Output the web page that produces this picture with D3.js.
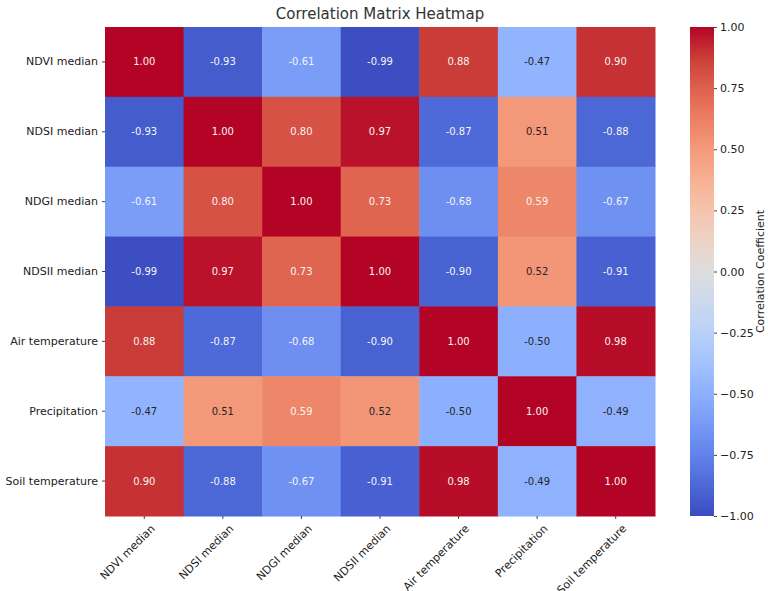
<!DOCTYPE html>
<html>
<head>
<meta charset="utf-8">
<script src="https://cdn.jsdelivr.net/npm/d3@7"></script>
<style>
  body { margin: 0; background: #fff; }
  svg text { font-family: "DejaVu Sans", sans-serif; }
</style>
</head>
<body>
<svg id="chart" width="768" height="591"></svg>
<script>
// variables in the matrix
var labels = ["NDVI median", "NDSI median", "NDGI median", "NDSII median",
              "Air temperature", "Precipitation", "Soil temperature"];

var rowNDVI  = [1.00, -0.93, -0.61, -0.99, 0.88, -0.47, 0.90];
var rowNDSI  = [-0.93, 1.00, 0.80, 0.97, -0.87, 0.51, -0.88];
var rowNDGI  = [-0.61, 0.80, 1.00, 0.73, -0.68, 0.59, -0.67];
var rowNDSII = [-0.99, 0.97, 0.73, 1.00, -0.90, 0.52, -0.91];
var rowAir   = [0.88, -0.87, -0.68, -0.90, 1.00, -0.50, 0.98];
var rowPrec  = [-0.47, 0.51, 0.59, 0.52, -0.50, 1.00, -0.49];
var rowSoil  = [0.90, -0.88, -0.67, -0.91, 0.98, -0.49, 1.00];

var matrix = [rowNDVI, rowNDSI, rowNDGI, rowNDSII, rowAir, rowPrec, rowSoil];
var cbTicks = [-1.00, -0.75, -0.50, -0.25, 0.00, 0.25, 0.50, 0.75, 1.00];

var svg = d3.select("#chart");
var m = { left: 105, top: 27, right: 655, bottom: 516 };

// coolwarm colormap (matplotlib samples)
var coolwarm = d3.piecewise(d3.interpolateRgb, [
    "rgb(59,76,192)", "rgb(77,104,215)", "rgb(98,130,234)", "rgb(119,154,247)",
    "rgb(141,176,254)", "rgb(163,194,255)", "rgb(184,208,249)", "rgb(204,217,238)",
    "rgb(221,221,221)", "rgb(236,211,197)", "rgb(245,196,173)", "rgb(247,177,148)",
    "rgb(244,154,123)", "rgb(236,127,99)", "rgb(222,96,77)", "rgb(203,62,56)",
    "rgb(180,4,38)"]);
var color = d3.scaleSequential(coolwarm).domain([-1, 1]);

var x = d3.scaleBand().domain(labels).range([m.left, m.right]);
var y = d3.scaleBand().domain(labels).range([m.top, m.bottom]);

var cells = [];
matrix.forEach(function (row, i) {
    row.forEach(function (v, j) {
        cells.push({ r: labels[i], c: labels[j], v: v });
    });
});

svg.append("text")
    .attr("x", (m.left + m.right) / 2).attr("y", 19)
    .attr("text-anchor", "middle")
    .attr("font-size", 15).attr("fill", "#333")
    .text("Correlation Matrix Heatmap");

svg.selectAll("rect.cell")
    .data(cells)
    .enter()
    .append("rect")
    .attr("class", "cell")
    .attr("x", function (d) { return x(d.c); })
    .attr("y", function (d) { return y(d.r); })
    .attr("width", x.bandwidth() + 0.5)
    .attr("height", y.bandwidth() + 0.5)
    .attr("fill", function (d) { return color(d.v); });

function lum(c) {
    var rgb = d3.rgb(c);
    var f = function (u) { u /= 255; return u <= 0.03928 ? u / 12.92 : Math.pow((u + 0.055) / 1.055, 2.4); };
    return 0.2126 * f(rgb.r) + 0.7152 * f(rgb.g) + 0.0722 * f(rgb.b);
}

svg.selectAll("text.val")
    .data(cells)
    .enter()
    .append("text")
    .attr("class", "val")
    .attr("x", function (d) { return x(d.c) + x.bandwidth() / 2; })
    .attr("y", function (d) { return y(d.r) + y.bandwidth() / 2; })
    .attr("dy", "0.35em")
    .attr("text-anchor", "middle")
    .attr("font-size", 10)
    .attr("fill", function (d) { return lum(color(d.v)) > 0.408 ? "#262626" : "#f4f4f4"; })
    .text(function (d) { return d.v.toFixed(2); });

// axes
var yAxis = svg.append("g")
    .attr("transform", "translate(" + m.left + ",0)")
    .call(d3.axisLeft(y).tickSize(3).tickPadding(4));
yAxis.attr("font-family", null);
yAxis.select(".domain").remove();
yAxis.selectAll("text").attr("font-size", 11).attr("fill", "#222");
yAxis.selectAll("line").attr("stroke", "#444");

var xAxis = svg.append("g")
    .attr("transform", "translate(0," + m.bottom + ")")
    .call(d3.axisBottom(x).tickSize(3).tickPadding(4));
xAxis.attr("font-family", null);
xAxis.select(".domain").remove();
xAxis.selectAll("line").attr("stroke", "#444");
xAxis.selectAll("text")
    .attr("font-size", 11).attr("fill", "#222")
    .attr("text-anchor", "end")
    .attr("dy", "0.3em")
    .attr("transform", "translate(4,6) rotate(-45)");

// colorbar
var cbX = 690, cbW = 24;
var defs = svg.append("defs");
var grad = defs.append("linearGradient").attr("id", "cbgrad")
    .attr("x1", 0).attr("y1", 1).attr("x2", 0).attr("y2", 0);
d3.range(0, 1.0001, 0.025).forEach(function (t) {
    grad.append("stop").attr("offset", t).attr("stop-color", coolwarm(t));
});
svg.append("rect")
    .attr("x", cbX).attr("y", m.top)
    .attr("width", cbW).attr("height", m.bottom - m.top)
    .attr("fill", "url(#cbgrad)");

var cbScale = d3.scaleLinear().domain([-1, 1]).range([m.bottom, m.top]);
var cbAxis = svg.append("g")
    .attr("transform", "translate(" + (cbX + cbW) + ",0)")
    .call(d3.axisRight(cbScale).tickValues(cbTicks)
        .tickFormat(function (d) { return d3.format(".2f")(d).replace("-", "\u2212"); })
        .tickSize(3).tickPadding(3));
cbAxis.attr("font-family", null);
cbAxis.select(".domain").remove();
cbAxis.selectAll("text").attr("font-size", 11).attr("fill", "#222");
cbAxis.selectAll("line").attr("stroke", "#444");

svg.append("text")
    .attr("transform", "translate(764," + ((m.top + m.bottom) / 2) + ") rotate(-90)")
    .attr("text-anchor", "middle")
    .attr("font-size", 11).attr("fill", "#222")
    .text("Correlation Coefficient");
</script>
</body>
</html>
